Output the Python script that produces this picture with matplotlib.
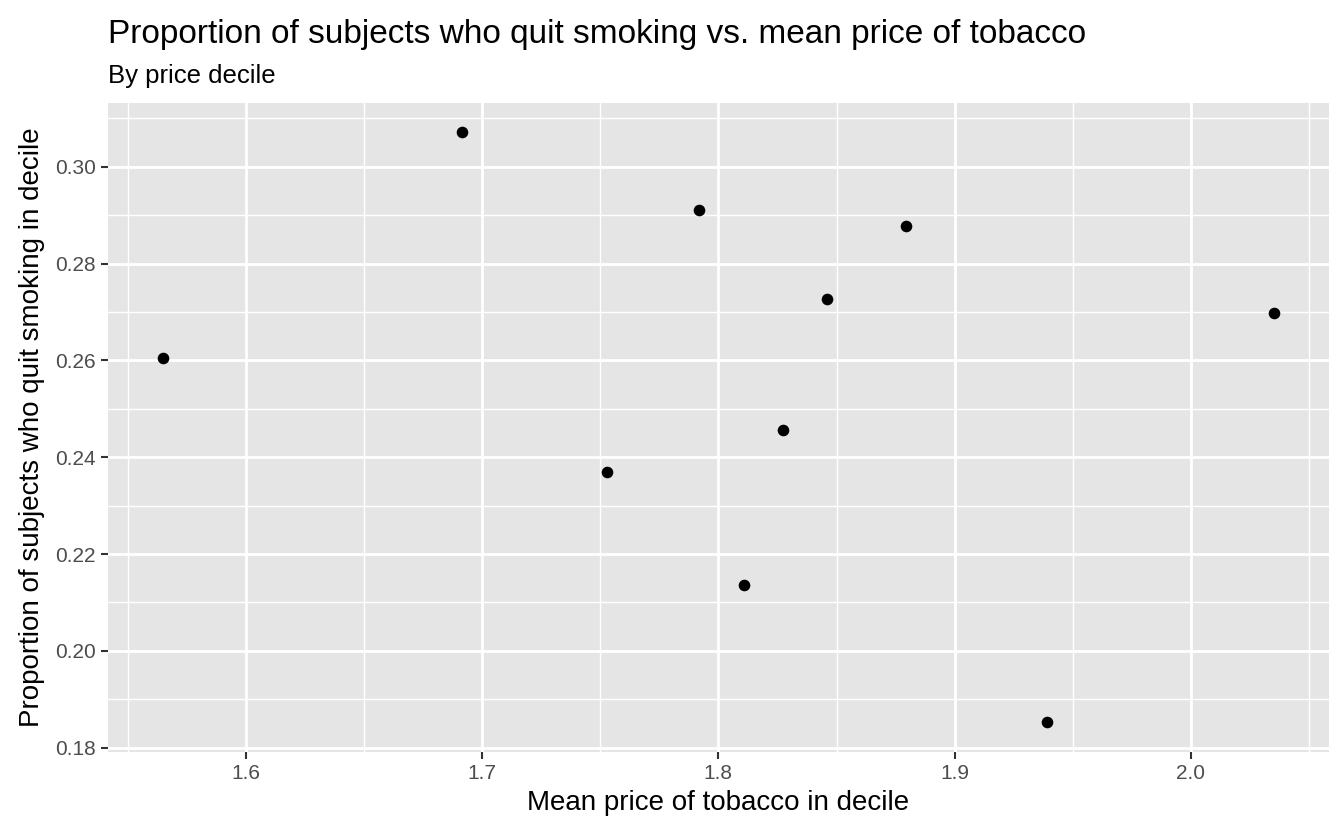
import matplotlib
matplotlib.use("Agg")
import matplotlib.pyplot as plt
import numpy as np

plt.rcParams['font.family'] = ['Liberation Sans', 'DejaVu Sans']

# mean price per decile and proportion who quit
price = [1.565, 1.6916, 1.7527, 1.792, 1.811, 1.8274, 1.846, 1.8793, 1.939, 2.035]
quit_prop = [0.2606, 0.3071, 0.2369, 0.2910, 0.2136, 0.2456, 0.2727, 0.2877, 0.1852, 0.2698]

xticks = [1.6, 1.7, 1.8, 1.9, 2.0]
yticks = [0.18, 0.20, 0.22, 0.24, 0.26, 0.28, 0.30]

fig = plt.figure(figsize=(13.44, 8.3), dpi=100)
ax = fig.add_axes([0.080, 0.094, 0.909, 0.782])
ax.set_facecolor('#e5e5e5')

ax.scatter(price, quit_prop, s=70, color='black', zorder=3, linewidths=0)

xr = max(price) - min(price)
yr = max(quit_prop) - min(quit_prop)
ax.set_xlim(min(price) - 0.05 * xr, max(price) + 0.05 * xr)
ax.set_ylim(min(quit_prop) - 0.05 * yr, max(quit_prop) + 0.05 * yr)

ax.set_xticks(xticks)
ax.set_xticklabels([f"{v:.1f}" for v in xticks])
ax.set_yticks(yticks)
ax.set_yticklabels([f"{v:.2f}" for v in yticks])
ax.set_xticks([1.55] + list(np.array(xticks) + 0.05), minor=True)
ax.set_yticks(np.array(yticks) + 0.01, minor=True)

ax.grid(which='major', color='white', linewidth=2)
ax.grid(which='minor', color='white', linewidth=1)
ax.set_axisbelow(True)
for s in ax.spines.values():
    s.set_visible(False)
ax.tick_params(which='major', length=5, width=1.5, color='#333333', labelsize=15, labelcolor='#4d4d4d')
ax.tick_params(which='minor', length=0)

ax.set_xlabel('Mean price of tobacco in decile', fontsize=20, labelpad=5)
ax.set_ylabel('Proportion of subjects who quit smoking in decile', fontsize=20, labelpad=7)

fig.text(0.080, 0.948, 'Proportion of subjects who quit smoking vs. mean price of tobacco', fontsize=24)
fig.text(0.080, 0.900, 'By price decile', fontsize=18.5)

fig.savefig('out.png', dpi=100)
